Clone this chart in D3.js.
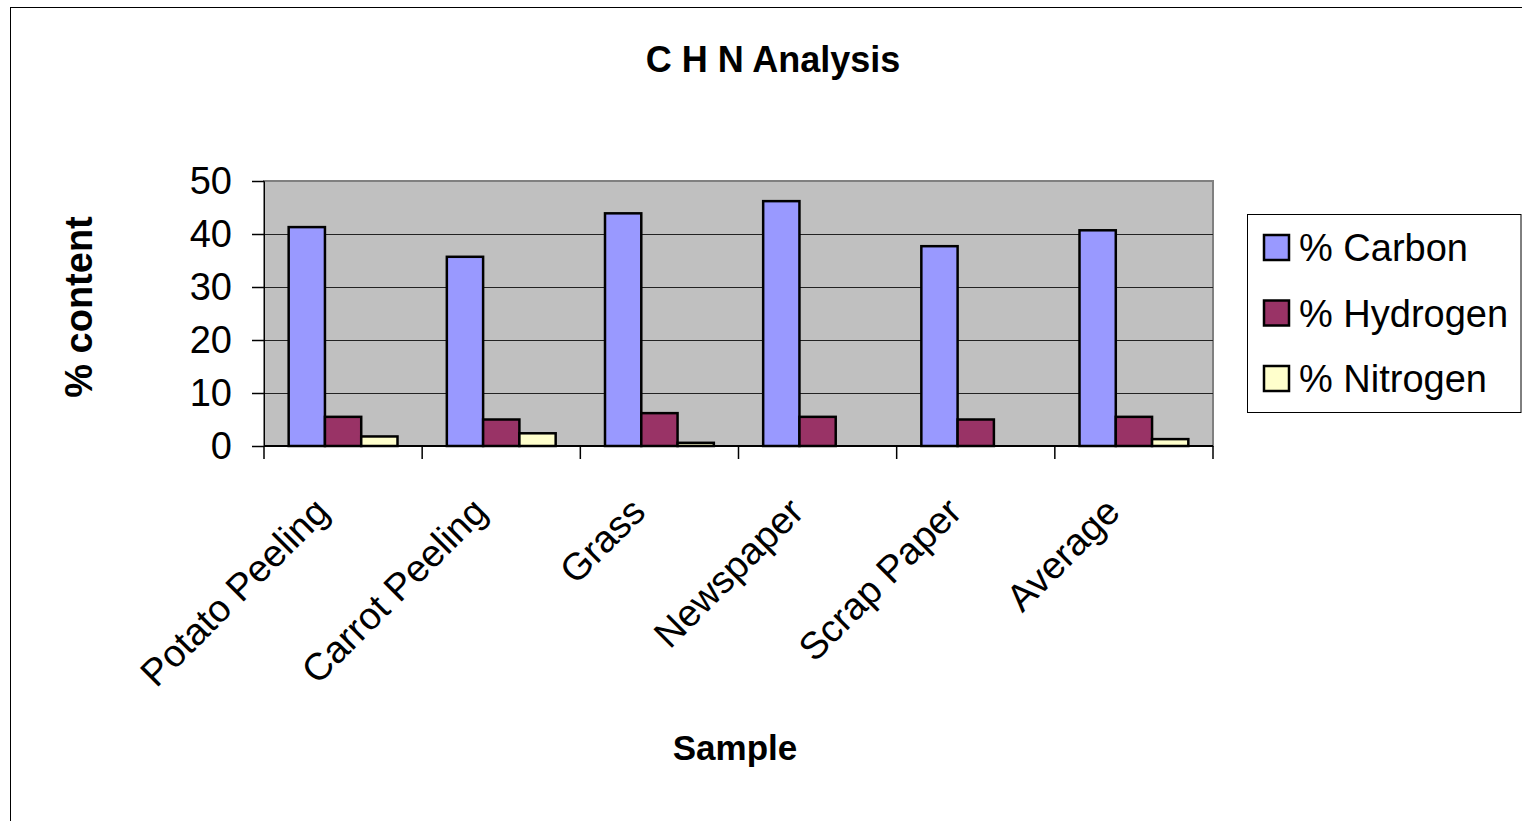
<!DOCTYPE html>
<html><head><meta charset="utf-8">
<script src="https://cdn.jsdelivr.net/npm/d3@7"></script>
<style>
html,body{margin:0;padding:0;background:#fff;overflow:hidden;}
text{font-family:"Liberation Sans",Arial,sans-serif;fill:#000;}
</style></head>
<body>
<svg id="chart" width="1522" height="821"></svg>
<script>
const categories = ["Potato Peeling","Carrot Peeling","Grass","Newspaper","Scrap Paper","Average"];
const seriesNames = ["% Carbon","% Hydrogen","% Nitrogen"];
const carbon   = [41.3, 35.7, 43.9, 46.2, 37.7, 40.7];
const hydrogen = [5.5, 5.0, 6.2, 5.5, 5.0, 5.5];
const nitrogen = [1.8, 2.4, 0.6, 0, 0, 1.3];
const yTicks = [0,10,20,30,40,50];
const colors = ["#9999FF","#993366","#FFFFCC"];
const title = "C H N Analysis";
const xTitle = "Sample";
const yTitle = "% content";

const seriesValues = [carbon, hydrogen, nitrogen];
const svg = d3.select("#chart");

// outer chart frame
svg.append("rect").attr("x",10.5).attr("y",7.5).attr("width",1600).attr("height",900)
  .attr("fill","#fff").attr("stroke","#000").attr("stroke-width",1);

const L=264, R=1213, T=181, B=446;
const x0 = d3.scaleBand().domain(categories).range([L,R]).padding(0);
const x1 = d3.scaleBand().domain(seriesNames).range([0,x0.bandwidth()]).paddingInner(0).paddingOuter(0.68);
const y = d3.scaleLinear().domain([0,50]).range([B,T]);

// plot area
svg.append("rect").attr("x",L).attr("y",T).attr("width",R-L).attr("height",B-T)
  .attr("fill","#C0C0C0").attr("stroke","#808080").attr("stroke-width",2);

// gridlines
svg.append("g").selectAll("line").data(yTicks.filter(d=>d>0 && d<50)).join("line")
  .attr("x1",L).attr("x2",R).attr("y1",d=>Math.round(y(d))+0.5).attr("y2",d=>Math.round(y(d))+0.5)
  .attr("stroke","#222").attr("stroke-width",1);

// bars
const groups = svg.append("g").selectAll("g").data(categories).join("g")
  .attr("transform",d=>`translate(${x0(d)},0)`);
groups.selectAll("rect").data((c,i)=>seriesNames.map((s,j)=>({s,j,v:seriesValues[j][i]})))
  .join("rect")
  .filter(d=>d.v>0)
  .attr("x",d=>x1(d.s)).attr("width",x1.bandwidth())
  .attr("y",d=>y(d.v)).attr("height",d=>B-y(d.v))
  .attr("fill",d=>colors[d.j]).attr("stroke","#000").attr("stroke-width",2.5);

// y axis
const yAxis = d3.axisLeft(y).tickValues(yTicks).tickSize(12).tickPadding(20).tickFormat(d3.format("d"));
const gy = svg.append("g").attr("transform",`translate(${L},0)`).call(yAxis);
gy.select(".domain").attr("stroke","#000").attr("stroke-width",1);
gy.selectAll(".tick line").attr("stroke","#000").attr("stroke-width",1.5);
gy.selectAll(".tick text").attr("font-size",38).attr("font-family","Liberation Sans, Arial, sans-serif").attr("fill","#000");

// x axis
const gx = svg.append("g").attr("transform",`translate(0,${B})`);
gx.append("line").attr("x1",L).attr("x2",R).attr("y1",0).attr("y2",0).attr("stroke","#000").attr("stroke-width",2);
const boundaries = categories.map(c=>x0(c)).concat([R]);
gx.selectAll("line.tk").data(boundaries).join("line").attr("class","tk")
  .attr("x1",d=>d).attr("x2",d=>d).attr("y1",0).attr("y2",13).attr("stroke","#000").attr("stroke-width",1.5);
gx.selectAll("text").data(categories).join("text")
  .attr("transform",d=>`translate(${x0(d)+x0.bandwidth()/2-12},${68}) rotate(-45)`)
  .attr("text-anchor","end").attr("font-size",38).text(d=>d);

// titles
svg.append("text").attr("x",773).attr("y",72).attr("text-anchor","middle")
  .attr("font-size",36).attr("font-weight","bold").text(title);
svg.append("text").attr("x",735).attr("y",760).attr("text-anchor","middle")
  .attr("font-size",35).attr("font-weight","bold").text(xTitle);
svg.append("text").attr("transform","translate(92,307) rotate(-90)").attr("text-anchor","middle")
  .attr("font-size",38).attr("font-weight","bold").text(yTitle);

// legend
const lg = svg.append("g");
lg.append("rect").attr("x",1247.5).attr("y",214.5).attr("width",1522-1247.5-1).attr("height",198)
  .attr("fill","#fff").attr("stroke","#000").attr("stroke-width",1);
const rows = lg.selectAll("g").data(seriesNames).join("g")
  .attr("transform",(d,i)=>`translate(0,${248+i*65.5})`);
rows.append("rect").attr("x",1264).attr("y",-13).attr("width",25).attr("height",25)
  .attr("fill",(d,i)=>colors[i]).attr("stroke","#000").attr("stroke-width",2.5);
rows.append("text").attr("x",1299).attr("y",13).attr("font-size",38).text(d=>d);
</script>
</body></html>
